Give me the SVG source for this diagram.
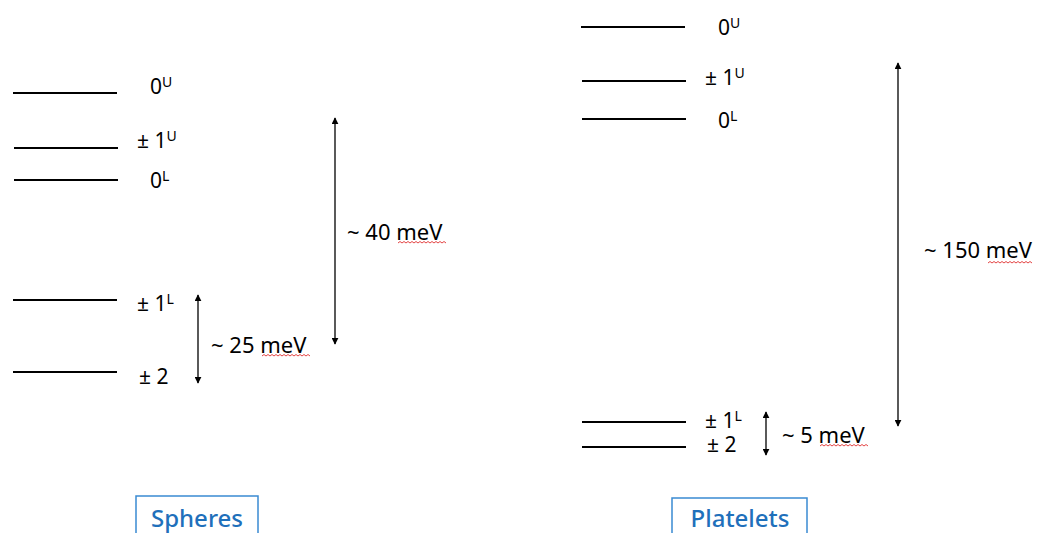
<svg xmlns="http://www.w3.org/2000/svg" width="1038" height="533" viewBox="0 0 1038 533">
<defs>
<marker id="ah" viewBox="0 0 10 10" refX="9" refY="5" markerWidth="7" markerHeight="7" markerUnits="userSpaceOnUse" orient="auto-start-reverse">
<path d="M0,0 L10,5 L0,10 z" fill="#000"/>
</marker>
<style>
.lvl{stroke:#000;stroke-width:2;fill:none}
.arr{stroke:#000;stroke-width:1.3;fill:none;marker-start:url(#ah);marker-end:url(#ah)}
.lab{font-family:"Noto Sans","DejaVu Sans",sans-serif;font-size:21px;fill:#000}
.sup{font-size:14px}
.en{font-family:"Noto Sans","DejaVu Sans",sans-serif;font-size:22px;fill:#000}
.sq{stroke:#e03030;stroke-width:0.9;fill:none}
.box{fill:#fff;stroke:#3a8ad2;stroke-width:1.5}
.title{font-family:"Noto Sans","DejaVu Sans",sans-serif;font-size:24px;font-weight:500;fill:#1f70bb}
</style>
</defs>
<rect width="1038" height="533" fill="#fff"/>

<g id="spheres">
<g id="s-0U"><line class="lvl" x1="13" y1="93" x2="117" y2="93"/><text class="lab" x="150" y="94">0<tspan class="sup" dy="-7">U</tspan></text></g>
<g id="s-1U"><line class="lvl" x1="14" y1="148" x2="118" y2="148"/><text class="lab" x="137" y="148">± 1<tspan class="sup" dy="-7">U</tspan></text></g>
<g id="s-0L"><line class="lvl" x1="14" y1="180" x2="118" y2="180"/><text class="lab" x="150" y="188">0<tspan class="sup" dy="-7">L</tspan></text></g>
<g id="s-1L"><line class="lvl" x1="13" y1="300" x2="117" y2="300"/><text class="lab" x="137" y="311">± 1<tspan class="sup" dy="-7">L</tspan></text></g>
<g id="s-2"><line class="lvl" x1="13" y1="372" x2="117" y2="372"/><text class="lab" x="139" y="384">± 2</text></g>
<g id="s-title"><rect class="box" x="136" y="496" width="122" height="45"/><text class="title" x="197" y="527" text-anchor="middle">Spheres</text></g>
</g>

<g id="platelets">
<g id="p-0U"><line class="lvl" x1="581" y1="27" x2="685" y2="27"/><text class="lab" x="718" y="35">0<tspan class="sup" dy="-7">U</tspan></text></g>
<g id="p-1U"><line class="lvl" x1="582" y1="81" x2="686" y2="81"/><text class="lab" x="705" y="85">± 1<tspan class="sup" dy="-7">U</tspan></text></g>
<g id="p-0L"><line class="lvl" x1="582" y1="119" x2="686" y2="119"/><text class="lab" x="718" y="128">0<tspan class="sup" dy="-7">L</tspan></text></g>
<g id="p-1L"><line class="lvl" x1="582" y1="422" x2="686" y2="422"/><text class="lab" x="705" y="428">± 1<tspan class="sup" dy="-7">L</tspan></text></g>
<g id="p-2"><line class="lvl" x1="582" y1="447" x2="686" y2="447"/><text class="lab" x="707" y="452">± 2</text></g>
<g id="p-title"><rect class="box" x="672" y="498" width="135" height="45"/><text class="title" x="740" y="527" text-anchor="middle">Platelets</text></g>
</g>

<g id="connectors">
<line class="arr" x1="335" y1="118" x2="335" y2="344"/>
<line class="arr" x1="198" y1="295" x2="198" y2="383"/>
<line class="arr" x1="898" y1="63" x2="898" y2="426"/>
<line class="arr" x1="766" y1="412" x2="766" y2="455"/>
</g>

<g id="labels">
<text class="en" x="347" y="240">~ 40 meV</text>
<text class="en" x="211" y="353">~ 25 meV</text>
<text class="en" x="924" y="258">~ 150 meV</text>
<text class="en" x="782" y="443">~ 5 meV</text>
<path class="sq" d="M398,243 l2,-1.5 l2,1.5 l2,-1.5 l2,1.5 l2,-1.5 l2,1.5 l2,-1.5 l2,1.5 l2,-1.5 l2,1.5 l2,-1.5 l2,1.5 l2,-1.5 l2,1.5 l2,-1.5 l2,1.5 l2,-1.5 l2,1.5 l2,-1.5 l2,1.5 l2,-1.5 l2,1.5 l2,-1.5 l2,1.5"/>
<path class="sq" d="M262,356 l2,-1.5 l2,1.5 l2,-1.5 l2,1.5 l2,-1.5 l2,1.5 l2,-1.5 l2,1.5 l2,-1.5 l2,1.5 l2,-1.5 l2,1.5 l2,-1.5 l2,1.5 l2,-1.5 l2,1.5 l2,-1.5 l2,1.5 l2,-1.5 l2,1.5 l2,-1.5 l2,1.5 l2,-1.5 l2,1.5"/>
<path class="sq" d="M988,263 l2,-1.5 l2,1.5 l2,-1.5 l2,1.5 l2,-1.5 l2,1.5 l2,-1.5 l2,1.5 l2,-1.5 l2,1.5 l2,-1.5 l2,1.5 l2,-1.5 l2,1.5 l2,-1.5 l2,1.5 l2,-1.5 l2,1.5 l2,-1.5 l2,1.5 l2,-1.5 l2,1.5"/>
<path class="sq" d="M820,446 l2,-1.5 l2,1.5 l2,-1.5 l2,1.5 l2,-1.5 l2,1.5 l2,-1.5 l2,1.5 l2,-1.5 l2,1.5 l2,-1.5 l2,1.5 l2,-1.5 l2,1.5 l2,-1.5 l2,1.5 l2,-1.5 l2,1.5 l2,-1.5 l2,1.5 l2,-1.5 l2,1.5 l2,-1.5 l2,1.5"/>
</g>
</svg>
